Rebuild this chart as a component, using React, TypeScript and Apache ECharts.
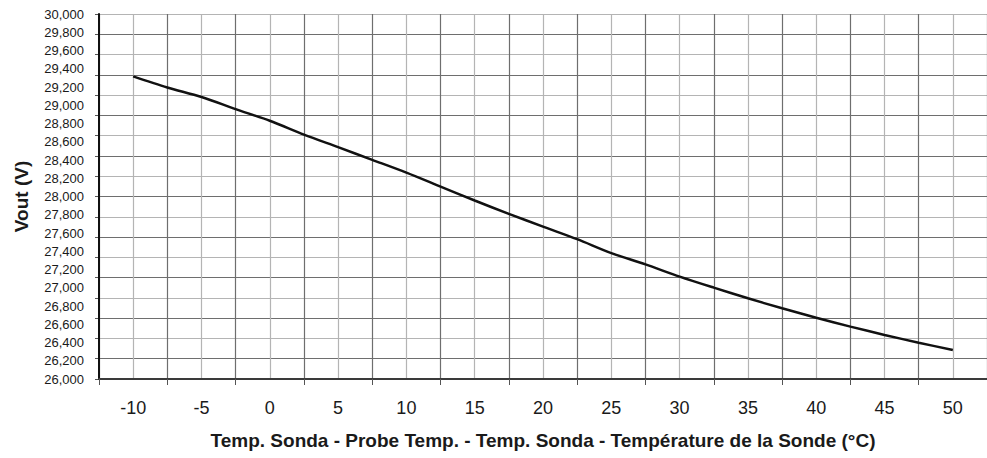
import React, { useEffect, useRef } from "react";
import * as echarts from "echarts";

const temps = [-10, -7.5, -5, -2.5, 0, 2.5, 5, 7.5, 10, 12.5, 15, 17.5, 20, 22.5, 25, 27.5, 30, 32.5, 35, 37.5, 40, 42.5, 45, 47.5, 50];
const vout = [29316, 29195, 29090, 28958, 28830, 28679, 28541, 28402, 28262, 28109, 27956, 27810, 27670, 27532, 27379, 27256, 27122, 27001, 26885, 26775, 26672, 26574, 26483, 26398, 26318];
const xLabelValues = [-10, -5, 0, 5, 10, 15, 20, 25, 30, 35, 40, 45, 50];
const xTickValues = [-12.5, -7.5, -2.5, 2.5, 7.5, 12.5, 17.5, 22.5, 27.5, 32.5, 37.5, 42.5, 47.5, 52.5];
const xName = "Temp. Sonda - Probe Temp. - Temp. Sonda - Température de la Sonde (°C)";
const yName = "Vout (V)";

export default function App() {
  const ref = useRef<HTMLDivElement>(null);
  useEffect(() => {
    document.body.style.margin = "0";
    const chart = echarts.init(ref.current!, null, { renderer: "svg" });
    const font = "'Liberation Sans', Arial, sans-serif";
    chart.setOption({
      animation: false,
      backgroundColor: "#ffffff",
      grid: { left: 99, top: 14, right: -3, bottom: 79 },
      xAxis: [
        {
          type: "value",
          min: -12.5,
          max: 52.5,
          interval: 2.5,
          name: xName,
          nameLocation: "middle",
          nameGap: 52,
          nameTextStyle: { fontFamily: font, fontSize: 19, fontWeight: "bold", color: "#1a1a1a" },
          axisLine: { show: true, onZero: false, lineStyle: { color: "#3a3a3a", width: 2 } },
          axisTick: { show: true, customValues: xTickValues, length: 6, lineStyle: { color: "#555", width: 1 } },
          axisLabel: {
            customValues: xLabelValues,
            fontFamily: font,
            fontSize: 18,
            color: "#1a1a1a",
            margin: 20,
          },
          splitLine: { show: false },
          z: 3,
        },
        {
          type: "value",
          min: -12.5,
          max: 52.5,
          interval: 2.5,
          position: "bottom",
          axisLine: { show: false, onZero: false },
          axisTick: { show: false },
          axisLabel: { show: false },
          splitLine: { show: true, lineStyle: { color: ["#6e6e6e", "#b4b4b4"], width: 1.2 } },
        },
      ],
      yAxis: [
        {
          type: "value",
          min: 26000,
          max: 30000,
          interval: 200,
          name: yName,
          nameLocation: "middle",
          nameGap: 68,
          nameRotate: 90,
          nameTextStyle: { fontFamily: font, fontSize: 19, fontWeight: "bold", color: "#1a1a1a" },
          axisLine: { show: true, onZero: false, lineStyle: { color: "#111", width: 2 } },
          axisTick: { show: false },
          splitLine: { show: false },
          axisLabel: {
            fontFamily: font,
            fontSize: 13,
            color: "#1a1a1a",
            margin: 15,
            formatter: (v: number) => v.toLocaleString("en-US"),
          },
          z: 3,
        },
        {
          type: "value",
          min: 0,
          max: 18,
          interval: 1,
          position: "left",
          axisLine: { show: false, onZero: false },
          axisLabel: { show: false },
          axisTick: { show: true, length: 4, lineStyle: { color: "#555" } },
          splitLine: { show: true, lineStyle: { color: ["#b4b4b4", "#6e6e6e"], width: 1.2 } },
        },
      ],
      series: [
        {
          type: "line",
          xAxisIndex: 0,
          yAxisIndex: 0,
          data: temps.map((t, i) => [t, vout[i]]),
          showSymbol: false,
          smooth: 0.3,
          lineStyle: { color: "#111", width: 2.5 },
          z: 5,
        },
      ],
    });
    return () => chart.dispose();
  }, []);
  return <div ref={ref} style={{ width: 987, height: 458 }} />;
}
